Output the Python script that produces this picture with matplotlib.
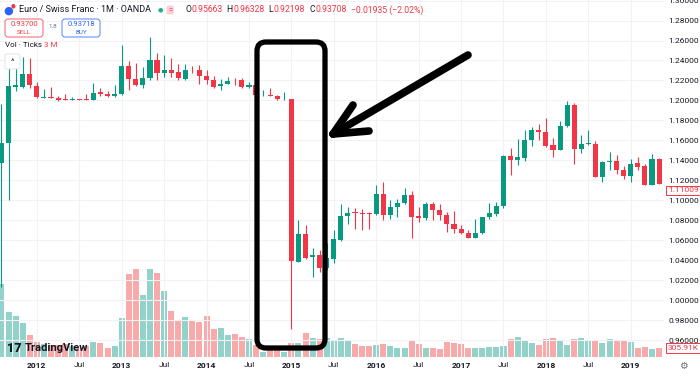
import numpy as np
import pandas as pd
import matplotlib
matplotlib.use("Agg")
import matplotlib.pyplot as plt
import matplotlib.transforms as mtransforms
from matplotlib.lines import Line2D
from matplotlib.patches import FancyBboxPatch
from matplotlib.ticker import FormatStrFormatter

plt.rcParams['font.family'] = ['Roboto', 'DejaVu Sans']

# monthly EUR/CHF candles, Aug 2011 .. May 2019
months = pd.date_range('2011-08-01', periods=94, freq='MS')

opens = [1.137, 1.157, 1.213, 1.2133, 1.2267,
         1.214, 1.2027, 1.2035, 1.2027, 1.2009, 1.2006, 1.2009, 1.2008, 1.2004, 1.2080, 1.2067, 1.2040,
         1.206, 1.2343, 1.2217, 1.215, 1.2223, 1.24, 1.2277, 1.2307, 1.228, 1.2217, 1.2307, 1.2300,
         1.2243, 1.2207, 1.2143, 1.2167, 1.2193, 1.22, 1.2133, 1.215, 1.205, 1.2053, 1.2043, 1.2010,
         1.201, 1.0383, 1.0667, 1.0427, 1.0453, 1.0317, 1.0407, 1.06, 1.084, 1.0877, 1.0870, 1.0867,
         1.0867, 1.1067, 1.085, 1.0933, 1.0973, 1.105, 1.0840, 1.0823, 1.0967, 1.0907, 1.0857, 1.0767,
         1.0717, 1.0673, 1.0627, 1.0673, 1.0833, 1.0867, 1.0940, 1.144, 1.1407, 1.1427, 1.1607, 1.17,
         1.1683, 1.155, 1.15, 1.174, 1.1957, 1.1517, 1.1567, 1.1567, 1.1233, 1.1387, 1.1393, 1.13,
         1.124, 1.1373, 1.1340, 1.115, 1.1417]
highs = [1.196, 1.237, 1.238, 1.244, 1.243,
         1.2183, 1.2117, 1.2133, 1.2040, 1.2060, 1.2033, 1.2012, 1.2067, 1.2173, 1.2127, 1.2093, 1.2150,
         1.256, 1.2393, 1.2377, 1.2333, 1.2633, 1.2477, 1.2457, 1.2423, 1.2367, 1.236, 1.234, 1.235,
         1.23, 1.2243, 1.2217, 1.2233, 1.222, 1.222, 1.2183, 1.2183, 1.21, 1.2127, 1.2050, 1.2083,
         1.2017, 1.08, 1.075, 1.0517, 1.0500, 1.0567, 1.07, 1.096, 1.0937, 1.0923, 1.0917, 1.0883,
         1.115, 1.1183, 1.1007, 1.1017, 1.1123, 1.1093, 1.0933, 1.0983, 1.0983, 1.0967, 1.0883, 1.089,
         1.075, 1.0700, 1.0817, 1.0833, 1.0973, 1.0983, 1.145, 1.1527, 1.161, 1.1707, 1.1733, 1.1767,
         1.1827, 1.1627, 1.179, 1.1993, 1.1973, 1.165, 1.17, 1.1593, 1.1393, 1.1483, 1.1450, 1.134,
         1.1417, 1.1433, 1.1367, 1.1467, 1.1427]
lows = [1.013, 1.100, 1.209, 1.2127, 1.2127,
        1.2023, 1.2020, 1.2020, 1.1990, 1.2000, 1.2000, 1.2003, 1.2000, 1.2000, 1.2040, 1.2033, 1.2030,
        1.205, 1.2107, 1.214, 1.2123, 1.22, 1.2207, 1.2233, 1.2233, 1.2207, 1.2207, 1.2273, 1.216,
        1.2167, 1.2120, 1.21, 1.216, 1.2157, 1.2125, 1.2125, 1.2047, 1.2043, 1.2040, 1.2007, 1.2000,
        0.971, 1.0377, 1.0410, 1.0233, 1.0283, 1.0300, 1.0367, 1.059, 1.0767, 1.0717, 1.0700, 1.0717,
        1.085, 1.08, 1.0817, 1.0833, 1.0960, 1.0617, 1.0783, 1.0800, 1.0807, 1.0800, 1.0683, 1.0673,
        1.0667, 1.0623, 1.0623, 1.0660, 1.0817, 1.0843, 1.0923, 1.125, 1.1357, 1.1393, 1.154, 1.160,
        1.1533, 1.1433, 1.15, 1.1733, 1.1367, 1.1473, 1.1550, 1.1233, 1.1183, 1.13, 1.1263, 1.1217,
        1.1183, 1.1307, 1.115, 1.115, 1.1160]
closes = [1.157, 1.214, 1.215, 1.2267, 1.2157,
          1.2033, 1.2033, 1.2027, 1.2000, 1.2006, 1.2009, 1.2008, 1.2004, 1.2073, 1.2060, 1.2040, 1.2060,
          1.2343, 1.221, 1.215, 1.2223, 1.24, 1.2277, 1.2307, 1.2277, 1.2223, 1.2307, 1.2300, 1.2243,
          1.2207, 1.2133, 1.2167, 1.2193, 1.2190, 1.2133, 1.2157, 1.205, 1.2053, 1.2043, 1.2010, 1.2013,
          1.039, 1.0667, 1.0423, 1.0453, 1.0317, 1.0417, 1.0607, 1.084, 1.0877, 1.0870, 1.0867, 1.0863,
          1.1067, 1.085, 1.0933, 1.0973, 1.105, 1.0833, 1.0827, 1.0967, 1.0907, 1.085, 1.0767, 1.0717,
          1.0673, 1.0627, 1.0673, 1.0833, 1.0873, 1.0943, 1.144, 1.1407, 1.1433, 1.1607, 1.17, 1.168,
          1.1543, 1.1507, 1.174, 1.1957, 1.1517, 1.156, 1.1573, 1.1233, 1.1383, 1.1393, 1.13, 1.124,
          1.1367, 1.1333, 1.115, 1.1417, 1.1167]
# volume in thousands of ticks
volumes = [2480, 1530, 1390, 1150, 750,
           510, 440, 410, 410, 440, 370, 300, 370, 510, 480, 300, 370,
           1320, 2820, 2990, 2100, 2990, 2850, 2240, 1560, 1260, 1360, 1220, 1190,
           1390, 950, 990, 750, 780, 680, 610, 410, 170, 300, 300, 170,
           480, 480, 810, 650, 610, 650, 580, 650, 580, 440, 370, 370,
           410, 440, 370, 300, 300, 580, 440, 300, 300, 270, 510, 480,
           440, 300, 300, 300, 340, 340, 370, 610, 680, 540, 480, 410,
           610, 650, 580, 410, 610, 650, 540, 580, 480, 610, 540, 540,
           510, 300, 340, 270, 306]

price_ticks = [0.96, 0.98, 1.00, 1.02, 1.04, 1.06, 1.08, 1.10, 1.12, 1.14, 1.16, 1.18,
               1.20, 1.22, 1.24, 1.26, 1.28, 1.30]

UP, DOWN = '#089981', '#f23645'
VOL_UP, VOL_DOWN = '#93d2ca', '#f8a9a9'
TXT = '#131722'
W, H = 700, 376

fig = plt.figure(figsize=(7, 3.76), dpi=100)
ax = fig.add_axes([0, 19 / H, 664 / W, 357 / H])
vax = ax.twinx()
ax.set_zorder(vax.get_zorder() + 1)
ax.patch.set_visible(False)

x = np.arange(len(opens))
o, h, l, c = map(np.array, (opens, highs, lows, closes))
up = c >= o
cols = np.where(up, UP, DOWN)

# volume pane
vax.bar(x, volumes, width=0.85, color=np.where(up, VOL_UP, VOL_DOWN), zorder=1)
vax.set_ylim(0, 357 * 34)
vax.set_yticks([])
for s in vax.spines.values():
    s.set_visible(False)

# candles
ax.vlines(x, l, h, colors=cols, lw=0.8, zorder=3)
body = np.maximum(np.abs(c - o), 0.0008)
ax.bar(x, body, bottom=np.minimum(o, c), width=0.72, color=cols, zorder=4)

ax.set_xlim(-0.21, 93.7)
ax.set_ylim(0.943, 1.3006)

# axes & grid
ax.yaxis.tick_right()
ax.set_yticks(price_ticks)
ax.yaxis.set_major_formatter(FormatStrFormatter('%.5f'))
tick_idx = [i for i, d in enumerate(months) if d.month in (1, 7)]
ax.set_xticks(tick_idx)
ax.set_xticklabels([str(months[i].year) if months[i].month == 1 else 'Jul' for i in tick_idx])
for i, lab in zip(tick_idx, ax.get_xticklabels()):
    if months[i].month == 1:
        lab.set_fontweight('bold')
ax.tick_params(axis='x', length=0, pad=3.5, labelsize=6, colors=TXT)
ax.tick_params(axis='y', length=0, pad=3, labelsize=6, colors=TXT)
ax.grid(True, color='#f0f2f6', lw=0.8)
ax.set_axisbelow(True)
for s in ax.spines.values():
    s.set_visible(False)

# price / volume tags on the scale
tag = dict(boxstyle='square,pad=0.2', fc='white', ec=DOWN, lw=0.7)
tr = mtransforms.blended_transform_factory(fig.transFigure, ax.transData)
ax.text(668 / W, 1.11009, '1.11009', transform=tr, va='center', ha='left', fontsize=6,
        color=DOWN, bbox=tag, zorder=10)
trv = mtransforms.blended_transform_factory(fig.transFigure, vax.transData)
vax.text(668 / W, 305.91, '305.91K', transform=trv, va='center', ha='left', fontsize=6,
         color=DOWN, bbox=tag, zorder=10)


def px(xp, yp):
    return xp / W, 1 - yp / H


# header
fig.text(*px(3, 11), '●', color='#2962ff', fontsize=8, va='center', ha='left')
fig.text(*px(11, 5.5), '●', color='#f23645', fontsize=4, va='center', ha='left')
fig.text(*px(19, 10), 'Euro / Swiss Franc · 1M · OANDA', color=TXT, fontsize=6.5, va='center')
fig.text(*px(158, 10), '●', color='#22ab94', fontsize=4.5, va='center')
fig.text(*px(168, 10), '=', color='#f23645', fontsize=5.5, va='center',
         bbox=dict(boxstyle='round,pad=0.2', fc='#fbd0d4', ec='none'))
prev = fig.text(*px(185, 10), 'O', color=TXT, fontsize=6.2, va='center')
parts = [('0.95663', DOWN, 0.3), ('H', TXT, 3), ('0.96328', DOWN, 0.3), ('L', TXT, 3),
         ('0.92198', DOWN, 0.3), ('C', TXT, 3), ('0.93708', DOWN, 0.3),
         ('−0.01935 (−2.02%)', DOWN, 3)]
for s, col, gap in parts:
    prev = ax.annotate(s, xy=(1, 0.5), xycoords=prev, xytext=(gap, 0), textcoords='offset points',
                       va='center', ha='left', color=col, fontsize=6.2, annotation_clip=False)

# sell / buy boxes
pix = mtransforms.IdentityTransform()
for x0, col, price, lab in [(5, DOWN, '0.93700', 'SELL'), (62, '#2962ff', '0.93718', 'BUY')]:
    fig.patches.append(FancyBboxPatch((x0, H - 37), 38, 18, boxstyle='round,pad=0,rounding_size=3',
                                      fc='white', ec=col, lw=0.7, alpha=0.8, transform=pix, figure=fig))
    fig.text(*px(x0 + 19, 23.5), price, color=col, fontsize=5.5, ha='center', va='center')
    fig.text(*px(x0 + 19, 32), lab, color=col, fontsize=4.5, ha='center', va='center')
fig.text(*px(53, 27), '1.8', color='#6a6d78', fontsize=4.5, ha='center', va='center')

fig.text(*px(5, 45), 'Vol · Ticks', color=TXT, fontsize=5.8, va='center')
fig.text(*px(44, 45), '3 M', color=DOWN, fontsize=5.8, va='center')
fig.patches.append(FancyBboxPatch((5, H - 69), 15, 15, boxstyle='round,pad=0,rounding_size=2',
                                  fc='white', ec='#e0e3eb', lw=0.7, transform=pix, figure=fig))
fig.text(*px(12.5, 62), '^', color=TXT, fontsize=6, ha='center', va='center')

# TradingView logo, bottom-left
fig.text(*px(7, 348), '17', color=TXT, fontsize=9, fontweight='heavy', va='center')
fig.text(*px(25, 348), 'TradingView', color=TXT, fontsize=8, fontweight='bold', va='center')
fig.text(*px(683, 366), '⚙', color='#6a6d78', fontsize=7, ha='center', va='center')

# hand-drawn highlight box and arrow
fig.patches.append(FancyBboxPatch((257, H - 348), 68, 306, boxstyle='round,pad=0,rounding_size=9',
                                  fc='none', ec='black', lw=3.8, transform=pix, figure=fig, zorder=20))
tip = (333, H - 134)
for end in [(468, H - 55), (353, H - 105), (369, H - 131)]:
    fig.add_artist(Line2D([tip[0], end[0]], [tip[1], end[1]], color='black', lw=5.5,
                          solid_capstyle='round', transform=pix, zorder=20))

fig.savefig('out.png', dpi=100)
